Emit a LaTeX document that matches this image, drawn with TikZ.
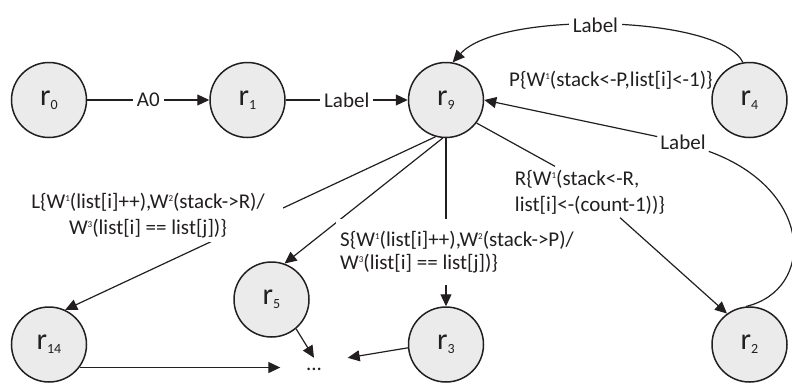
\documentclass[tikz,border=0pt]{standalone}
\usepackage{fontspec}
\setmainfont{Carlito}
\usepackage{tikz}
\usetikzlibrary{positioning, arrows.meta}
\definecolor{statefill}{RGB}{235,235,235}
\definecolor{ink}{RGB}{35,31,32}
\newcommand{\rname}[1]{r\raisebox{-4pt}{\fontsize{14}{14}\selectfont #1}}
\newcommand{\Wsup}[1]{W\raisebox{7pt}{\fontsize{9}{9}\selectfont #1}}

\begin{document}
\begin{tikzpicture}[x=1pt, y=-1pt, node distance=10pt]
    \tikzstyle{every node}=[font=\fontsize{21}{26}\selectfont, text=ink]
    \tikzstyle{rstate}=[circle, draw=ink, line width=1.5pt, fill=statefill, minimum size=75pt, inner sep=0pt, font=\fontsize{30}{30}\selectfont]
    \tikzstyle{line}=[draw=ink, line width=1.2pt]
    \tikzstyle{edge}=[line, -{Triangle[length=12pt, width=11pt]}]
    \tikzstyle{tag}=[fill=white, inner sep=4pt]
    \useasboundingbox (0,0) rectangle (792,383);

    \node (r0)  [rstate] at (49,100)               {\rname{0}};
    \node (r1)  [rstate, right=122pt of r0]        {\rname{1}};
    \node (r9)  [rstate, right=122pt of r1]        {\rname{9}};
    \node (r4)  [rstate, right=227pt of r9]        {\rname{4}};
    \node (r14) [rstate, below=168pt of r0]        {\rname{14}};
    \node (r3)  [rstate, below=168pt of r9]        {\rname{3}};
    \node (r2)  [rstate, below=168pt of r4]        {\rname{2}};
    \node (r5)  [rstate] at (271.5,299.5)          {\rname{5}};
    \node (dots) [minimum width=67pt, minimum height=22pt, inner sep=0pt] at (314,369) {...};

    \node (lab B) [inner sep=3pt] at (683,142) {Label};
    \node (lab R) [align=left] at (590,192) {R\{\Wsup{1}(stack<-R,\\list[i]<-(count-1))\}};
    \node (lab P) at (611,80) {P\{\Wsup{1}(stack<-P,list[i]<-1)\}};

    \draw [edge] (r0) -- node[tag]{A0} (r1);
    \draw [edge] (r1) -- node[tag]{Label} (r9);
    \draw [edge] (r4.100) .. controls (720,15) and (500,10) .. node[tag, pos=0.53]{Label} (r9.80);
    \draw [edge] (r2.95) .. controls (815,290) and (815,190) .. (lab B) -- (r9.0);
    \draw [line] (r9.-37) -- ([xshift=-35pt]lab R.north);
    \draw [edge] ([xshift=30pt]lab R.south) -- (r2.126);
    \draw [edge] (r9.-106) -- (r14.65);
    \draw [edge] (r9.-95) -- (r5.70);
    \draw [edge] (r9) -- (r3);
    \draw [edge] (r14.-37) -- (r14.-37 -| dots.west);
    \draw [edge] (r5.-50) -- (dots.north);
    \draw [edge] (r3.185) -- (dots.north east);

    \node (lab L) [tag, align=center, inner xsep=18pt] at (148,216) {L\{\Wsup{1}(list[i]++),\Wsup{2}(stack->R)/\\\Wsup{3}(list[i] == list[j])\}};
    \node (lab S) [tag, align=left, inner ysep=12pt, font=\fontsize{21}{23}\selectfont] at (457,252) {S\{\Wsup{1}(list[i]++),\Wsup{2}(stack->P)/\\\Wsup{3}(list[i] == list[j])\}};
\end{tikzpicture}
\end{document}
